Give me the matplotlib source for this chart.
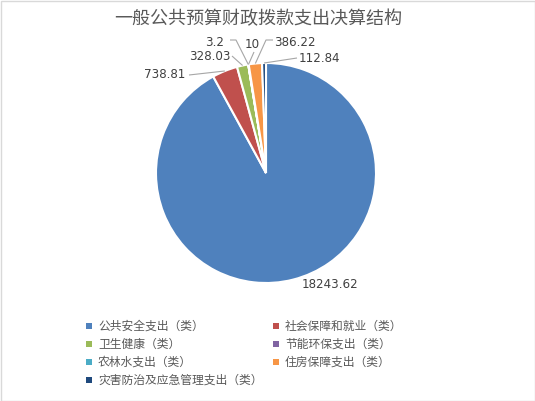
import matplotlib
matplotlib.use("Agg")
import matplotlib.pyplot as plt
from matplotlib.patches import Rectangle
import numpy as np

plt.rcParams['font.family'] = ['Noto Sans CJK SC', 'DejaVu Sans']

title = "一般公共预算财政拨款支出决算结构"
categories = ["公共安全支出（类）", "社会保障和就业（类）", "卫生健康（类）",
              "节能环保支出（类）", "农林水支出（类）", "住房保障支出（类）",
              "灾害防治及应急管理支出（类）"]
values = [18243.62, 738.81, 328.03, 3.2, 10, 386.22, 112.84]
value_labels = ["18243.62", "738.81", "328.03", "3.2", "10", "386.22", "112.84"]
colors = ["#4F81BD", "#C0504D", "#9BBB59", "#8064A2", "#4BACC6", "#F79646", "#1F497D"]

W, H = 535, 401
fig = plt.figure(figsize=(W / 100, H / 100), dpi=100)
fig.patch.set_facecolor("white")
fig.add_artist(Rectangle((0.5 / W, 0.5 / H), 1 - 1.0 / W, 1 - 1.0 / H, transform=fig.transFigure,
                         fill=False, edgecolor="#d9d9d9", linewidth=1))

# pie placement (pixels): center (266,173), radius 110
cx, cy, R = 266, 173, 110
half = 150
ax = fig.add_axes([(cx - half) / W, (H - cy - half) / H, 2 * half / W, 2 * half / H])
wedges, _ = ax.pie(values, colors=colors, startangle=90, counterclock=False,
                   wedgeprops=dict(edgecolor="white", linewidth=1.5))
lim = half / R
ax.set_xlim(-lim, lim)
ax.set_ylim(-lim, lim)
ax.set_aspect("equal")
ax.axis("off")

def px(x, y):
    return ((x - cx) / R, (cy - y) / R)

# label layout: (text center px, text anchor for line px, elbow px or None)
layout = [
    ((330, 284), None, None),
    ((165, 75), (189, 75), None),
    ((210, 57), (232, 56), None),
    ((215, 42), (230, 40), (236, 40)),
    ((252, 44), (254, 52), None),
    ((295, 42), (273, 40), (266, 40)),
    ((319, 58), (297, 58), None),
]
line_col = "#a6a6a6"
txt_col = "#404040"
for w, lab, (tc, anc, elb) in zip(wedges, value_labels, layout):
    mid = np.deg2rad((w.theta1 + w.theta2) / 2)
    ex, ey = np.cos(mid), np.sin(mid)
    tx, ty = px(*tc)
    ax.text(tx, ty, lab, ha="center", va="center", fontsize=8.6, color=txt_col,
            family="DejaVu Sans", clip_on=False)
    if anc is not None:
        pts = [px(*anc)]
        if elb is not None:
            pts.append(px(*elb))
        pts.append((ex * 1.0, ey * 1.0))
        xs, ys = zip(*pts)
        ax.plot(xs, ys, color=line_col, linewidth=0.8, clip_on=False, solid_capstyle="butt")

fig.text(258 / W, 1 - 19 / H, title, ha="center", va="center", fontsize=13, color="#595959")

# legend, row-major two columns
col_x = [89, 276]
row_y0, row_dy = 326, 18
for i, (cat, c) in enumerate(zip(categories, colors)):
    r, k = divmod(i, 2)
    x = col_x[k]
    y = row_y0 + r * row_dy
    s = 6
    fig.add_artist(Rectangle(((x - s / 2) / W, (H - y - s / 2) / H), s / W, s / H,
                             transform=fig.transFigure, facecolor=c, edgecolor="none"))
    fig.text((x + 9) / W, (H - y) / H, cat, ha="left", va="center", fontsize=8.5, color="#595959")

fig.savefig("out.png", dpi=100, facecolor="white")
